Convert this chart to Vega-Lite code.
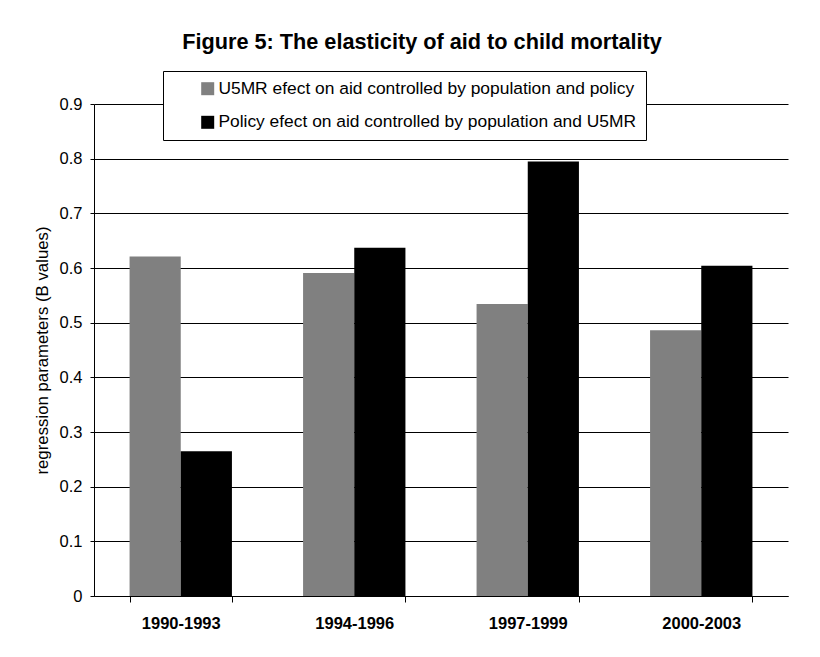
{
  "$schema": "https://vega.github.io/schema/vega-lite/v6.json",
  "width": 694,
  "height": 492,
  "autosize": "none",
  "padding": {"left": 94, "top": 104, "right": 32, "bottom": 61},
  "background": "white",
  "title": {
    "text": "Figure 5: The elasticity of aid to child mortality",
    "font": "Liberation Sans",
    "fontSize": 21.7,
    "fontWeight": "bold",
    "color": "black",
    "anchor": "middle",
    "frame": "group",
    "offset": 17,
    "dx": -19
  },
  "data": {
    "values": [
      {"period": "1990-1993", "series": "U5MR efect on aid controlled by population and policy", "value": 0.621},
      {"period": "1990-1993", "series": "Policy efect on aid controlled by population and U5MR", "value": 0.265},
      {"period": "1994-1996", "series": "U5MR efect on aid controlled by population and policy", "value": 0.591},
      {"period": "1994-1996", "series": "Policy efect on aid controlled by population and U5MR", "value": 0.637},
      {"period": "1997-1999", "series": "U5MR efect on aid controlled by population and policy", "value": 0.534},
      {"period": "1997-1999", "series": "Policy efect on aid controlled by population and U5MR", "value": 0.795},
      {"period": "2000-2003", "series": "U5MR efect on aid controlled by population and policy", "value": 0.486},
      {"period": "2000-2003", "series": "Policy efect on aid controlled by population and U5MR", "value": 0.604}
    ]
  },
  "mark": {"type": "bar"},
  "encoding": {
    "x": {
      "field": "period",
      "type": "nominal",
      "scale": {"paddingInner": 0.41, "paddingOuter": 0.205},
      "axis": {
        "title": null,
        "labelAngle": 0,
        "labelFont": "Liberation Sans",
        "labelFontSize": 16.5,
        "labelFontWeight": "bold",
        "labelColor": "black",
        "labelPadding": 13,
        "tickBand": "extent",
        "tickColor": "black",
        "tickSize": 6,
        "domainColor": "black",
        "grid": false
      }
    },
    "xOffset": {
      "field": "series",
      "type": "nominal",
      "sort": ["U5MR efect on aid controlled by population and policy", "Policy efect on aid controlled by population and U5MR"],
      "scale": {"paddingInner": 0, "paddingOuter": 0}
    },
    "y": {
      "field": "value",
      "type": "quantitative",
      "scale": {"domain": [0, 0.9], "nice": false},
      "axis": {
        "title": "regression parameters (B values)",
        "titleFont": "Liberation Sans",
        "titleFontSize": 16.8,
        "titleFontWeight": "normal",
        "titleColor": "black",
        "titlePadding": 8,
        "values": [0, 0.1, 0.2, 0.3, 0.4, 0.5, 0.6, 0.7, 0.8, 0.9],
        "labelExpr": "datum.value == 0 ? '0' : format(datum.value, '.1f')",
        "labelFont": "Liberation Sans",
        "labelFontSize": 16.5,
        "labelColor": "black",
        "labelPadding": 8,
        "tickColor": "black",
        "tickSize": 4,
        "domainColor": "black",
        "grid": true,
        "gridColor": "black",
        "gridOpacity": 1
      }
    },
    "color": {
      "field": "series",
      "type": "nominal",
      "sort": ["U5MR efect on aid controlled by population and policy", "Policy efect on aid controlled by population and U5MR"],
      "scale": {"range": ["#808080", "#000000"]},
      "legend": {
        "title": null,
        "orient": "none",
        "legendX": 69,
        "legendY": -33,
        "fillColor": "white",
        "strokeColor": "black",
        "padding": 9,
        "symbolType": "square",
        "symbolSize": 169,
        "symbolOpacity": 1,
        "symbolStrokeWidth": 0,
        "symbolOffset": 27,
        "labelOffset": 2,
        "labelExpr": "datum.label + '\u00a0\u00a0\u00a0\u00a0\u00a0\u00a0\u00a0\u00a0\u00a0\u00a0'",
        "labelFont": "Liberation Sans",
        "labelFontSize": 17.4,
        "labelColor": "black",
        "rowPadding": 14.6,
        "labelLimit": 700
      }
    }
  },
  "config": {
    "view": {"stroke": null},
    "axis": {"domainWidth": 1, "gridWidth": 1, "tickWidth": 1}
  }
}
